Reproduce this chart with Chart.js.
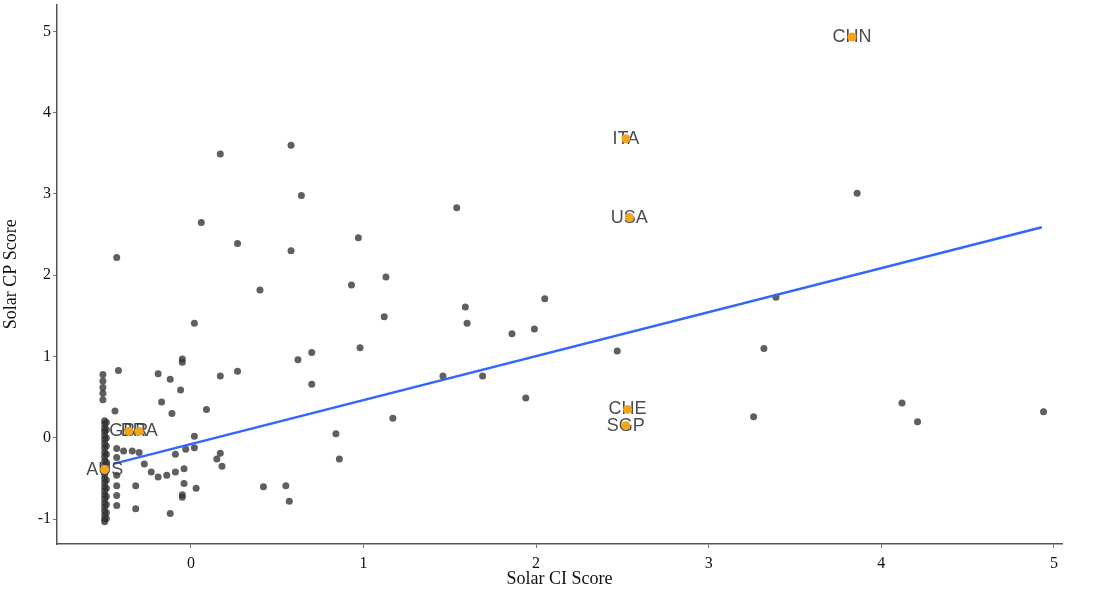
<!DOCTYPE html>
<html>
<head>
<meta charset="utf-8">
<script src="https://cdn.jsdelivr.net/npm/chart.js@4/dist/chart.umd.min.js"></script>
<style>
  html, body { margin: 0; padding: 0; background: #fff; }
  #wrap { width: 1094px; height: 594px; }
</style>
</head>
<body>
<div id="wrap"><canvas id="chart" width="1094" height="594"></canvas></div>
<script>
// country scores (CI on x, CP on y)
const ciScores = [
  0.17, 0.58, 0.64, 0.06, 0.27, 0.58, 0.97, -0.43, 0.40, 0.93, 1.13, 1.12, 0.02, 0.98, 0.70, 0.62,
  -0.05, -0.05, 0.70, 1.17, 0.84, 0.86, 1.46, 1.59, 1.60, 1.69, 1.86, 1.99, 2.05, 1.94, 1.54, 3.86,
  2.47, 3.32, 3.39, 3.26, 4.12, 4.21, 4.94,
  -0.42, -0.19, -0.12, 0.17, 0.27, -0.06, -0.17, -0.44, -0.11, 0.09, 0.02, 0.02, -0.03, -0.09, 0.17,
  0.15, 0.18, -0.27, -0.23, -0.19, -0.14, -0.09, -0.04, -0.32, -0.04, 0.03, -0.05, -0.05, -0.32, -0.12,
  0.42, 0.55, 0.57, -0.39, -0.34, -0.30,
  -0.51, -0.51, -0.51, -0.51, -0.51,
  -0.50, -0.50, -0.50, -0.50, -0.50, -0.50, -0.50, -0.50, -0.50, -0.50, -0.50, -0.50, -0.50,
  -0.50, -0.50, -0.50, -0.50, -0.50, -0.50, -0.50, -0.50, -0.50, -0.50, -0.50, -0.50,
  -0.49, -0.49, -0.49, -0.49, -0.49, -0.49, -0.49, -0.49, -0.49, -0.49, -0.49, -0.49,
  -0.43, -0.43, -0.43, -0.43, -0.43, -0.43
];
const cpScores = [
  3.49, 3.60, 2.98, 2.65, 2.39, 2.30, 2.46, 2.22, 1.82, 1.88, 1.98, 1.49, 1.41, 1.11, 1.05, 0.96,
  0.97, 0.93, 0.66, 0.24, 0.05, -0.26, 0.76, 1.61, 1.41, 0.76, 1.28, 1.34, 1.71, 0.49, 2.83, 3.01,
  1.07, 1.10, 1.73, 0.26, 0.43, 0.20, 0.32,
  0.83, 0.79, 0.72, 0.76, 0.82, 0.59, 0.44, 0.33, 0.30, 0.35, 0.02, -0.12, -0.14, -0.20, -0.19,
  -0.26, -0.35, -0.32, -0.42, -0.48, -0.46, -0.42, -0.38, -0.59, -0.56, -0.62, -0.70, -0.73, -0.87, -0.93,
  -0.60, -0.59, -0.78, -0.16, -0.16, -0.18,
  0.78, 0.70, 0.62, 0.55, 0.47,
  0.21, 0.17, 0.12, 0.08, 0.03, -0.02, -0.07, -0.12, -0.18, -0.23, -0.28, -0.33, -0.45,
  -0.50, -0.55, -0.60, -0.65, -0.70, -0.75, -0.80, -0.85, -0.90, -0.95, -1.00, -1.03,
  0.19, 0.10, 0.00, -0.10, -0.20, -0.30, -0.52, -0.62, -0.72, -0.82, -0.92, -0.99,
  -0.13, -0.24, -0.46, -0.59, -0.71, -0.83
];

// highlighted countries
const labelNames = ["CHN", "ITA", "USA", "CHE", "SGP", "GBR", "BRA", "AUS"];
const labelCI = [3.83, 2.52, 2.54, 2.53, 2.52, -0.36, -0.30, -0.50];
const labelCP = [4.93, 3.68, 2.71, 0.35, 0.15, 0.08, 0.08, -0.39];

// linear fit ends
const fitCI = [-0.45, 4.93];
const fitCP = [-0.32, 2.59];

const xTicks = [0, 1, 2, 3, 4, 5];
const yTicks = [-1, 0, 1, 2, 3, 4, 5];

const serif = "'Liberation Serif', 'DejaVu Serif', serif";

const countryLabels = {
  id: "countryLabels",
  beforeDatasetDraw(chart, args) {
    if (args.index !== 0) return;
    const { ctx, scales } = chart;
    ctx.save();
    ctx.font = "18px 'Liberation Sans', Arial, sans-serif";
    ctx.fillStyle = "rgba(55,55,55,0.9)";
    ctx.textAlign = "center";
    ctx.textBaseline = "middle";
    labelNames.forEach((name, i) => {
      ctx.fillText(name, scales.x.getPixelForValue(labelCI[i]), scales.y.getPixelForValue(labelCP[i]));
    });
    ctx.restore();
  }
};

new Chart(document.getElementById("chart"), {
  data: {
    datasets: [
      {
        type: "scatter",
        data: labelCI.map((x, i) => ({ x: x, y: labelCP[i] })),
        backgroundColor: "#f2a51a",
        borderWidth: 0,
        pointRadius: 4.5
      },
      {
        type: "line",
        data: fitCI.map((x, i) => ({ x: x, y: fitCP[i] })),
        borderColor: "#3366ff",
        borderWidth: 2.5,
        pointRadius: 0,
        fill: false
      },
      {
        type: "scatter",
        data: ciScores.map((x, i) => ({ x: x, y: cpScores[i] })),
        backgroundColor: "rgba(50,50,50,0.78)",
        borderWidth: 0,
        pointRadius: 3.5
      }
    ]
  },
  options: {
    responsive: false,
    animation: false,
    layout: { padding: { top: 0, right: 32, bottom: 0, left: 0 } },
    plugins: { legend: { display: false }, tooltip: { enabled: false } },
    scales: {
      x: {
        type: "linear",
        min: -0.776,
        max: 5.047,
        afterBuildTicks: s => { s.ticks = xTicks.map(v => ({ value: v })); },
        afterFit: s => { s.height = 50; s.paddingLeft = 0; s.paddingRight = 0; },
        grid: { drawOnChartArea: false, drawTicks: true, tickLength: 4, color: "#777" },
        border: { display: true, color: "#555", width: 1.5 },
        ticks: { color: "#111", font: { family: serif, size: 16 }, padding: 6 },
        title: { display: true, text: "Solar CI Score", color: "#111", font: { family: serif, size: 18 }, padding: { top: 0, bottom: 4 } }
      },
      y: {
        type: "linear",
        min: -1.305,
        max: 5.33,
        afterBuildTicks: s => { s.ticks = yTicks.map(v => ({ value: v })); },
        afterFit: s => { s.width = 57; s.paddingTop = 0; s.paddingBottom = 0; },
        grid: { drawOnChartArea: false, drawTicks: true, tickLength: 4, color: "#777" },
        border: { display: true, color: "#555", width: 1.5 },
        ticks: { color: "#111", font: { family: serif, size: 16 }, padding: 2 },
        title: { display: true, text: "Solar CP Score", color: "#111", font: { family: serif, size: 18 }, padding: { top: 0, bottom: 2 } }
      }
    }
  },
  plugins: [countryLabels]
});
</script>
</body>
</html>
